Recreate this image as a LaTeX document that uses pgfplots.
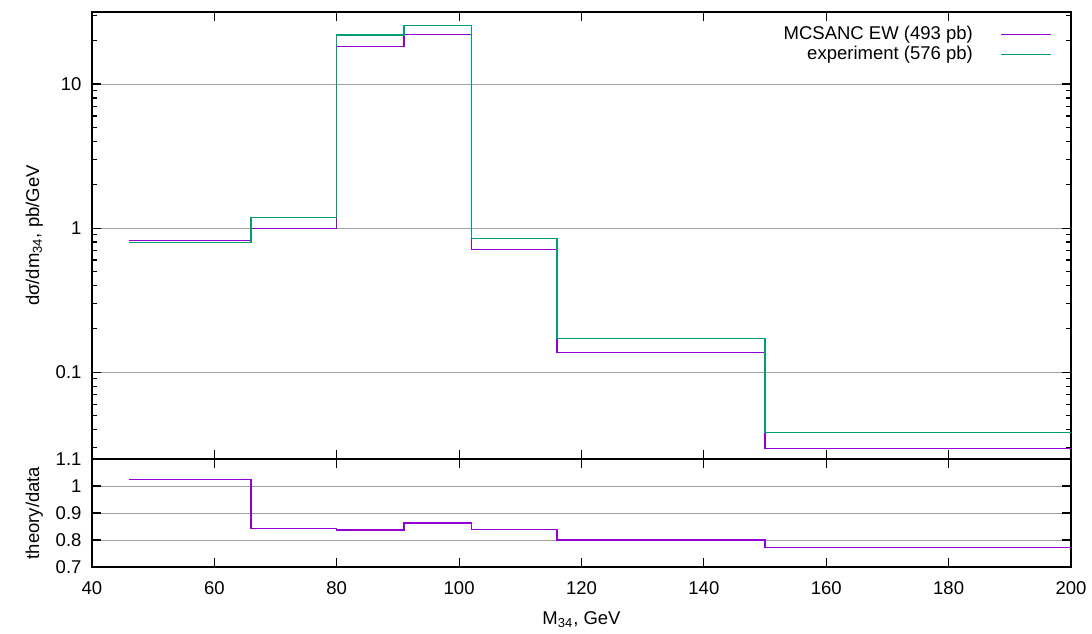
\documentclass[border=0pt]{standalone}
\usepackage{pgfplots}
\pgfplotsset{compat=1.18}
\usepackage{fontspec}
\setmainfont{Liberation Sans}
\definecolor{mcsanc}{HTML}{9400D3}
\definecolor{expcol}{HTML}{009E73}
\definecolor{gridgray}{HTML}{A0A0A0}
\pgfplotsset{mylegend/.style={legend image code/.code={\draw[#1, line width=0.6pt] (0pt,0pt) -- (25pt,0pt);}}}
\begin{document}
\fontsize{9.25}{11}\selectfont
\begin{tikzpicture}
\pgfplotsset{
  every axis/.append style={
    font=\fontsize{9.25}{11}\selectfont,
    scale only axis,
    width=489.5pt,
    xmin=40, xmax=200,
    tick align=inside,
    tick pos=both,
    major tick length=4.5pt,
    minor tick length=2.5pt,
    axis line style={line width=0.6pt},
    every tick/.style={black, line width=0.6pt},
    ymajorgrids,
    major grid style={gridgray, line width=0.5pt},
    /pgf/number format/assume math mode=true,
    yticklabel style={xshift=-2pt},
  },
}
\begin{axis}[
  name=top,
  at={(0,0)}, anchor=south west,
  height=223.5pt,
  ymode=log,
  ymin=0.025, ymax=31.6,
  log ticks with fixed point,
  xtick={40,60,...,200},
  xticklabels={},
  ylabel={dσ/dm\textsubscript{34}, pb/GeV},
  ylabel style={at={(axis description cs:-0.059,0.5)}, anchor=center},
  legend plot pos=right,
  legend cell align=right,
  legend style={draw=none, fill=none, at={(axis description cs:0.981,0.978)}, anchor=north east,
    inner sep=0pt, row sep=-2pt, column sep=12pt, font=\fontsize{9.25}{11}\selectfont},
]
\addplot[const plot, color=mcsanc, line width=0.6pt, mylegend=mcsanc] coordinates {
  (46,0.821) (66,1.0) (80,18.3) (91,22.1) (102,0.711) (116,0.137) (150,0.0295) (200,0.0295)
};
\addlegendentry{MCSANC EW (493 pb)}
\addplot[const plot, color=expcol, line width=0.6pt, mylegend=expcol] coordinates {
  (46,0.795) (66,1.187) (80,21.9) (91,25.6) (102,0.843) (116,0.171) (150,0.0381) (200,0.0381)
};
\addlegendentry{experiment (576 pb)}
\end{axis}
\begin{axis}[
  name=bottom,
  at={(0,0)}, anchor=north west,
  height=54pt,
  ymin=0.7, ymax=1.1,
  xtick={40,60,...,200},
  ytick={0.7,0.8,0.9,1,1.1},
  yticklabels={0.7,0.8,0.9,1,1.1},
  xticklabel style={yshift=-4pt},
  ylabel={theory/data},
  ylabel style={at={(axis description cs:-0.059,0.5)}, anchor=center},
  xlabel={M\textsubscript{34}, GeV},
  xlabel style={at={(axis description cs:0.5,-0.49)}, anchor=center},
]
\addplot[const plot, color=mcsanc, line width=0.6pt] coordinates {
  (46,1.025) (66,0.843) (80,0.837) (91,0.863) (102,0.838) (116,0.800) (150,0.772) (200,0.772)
};
\end{axis}
\pgfresetboundingbox
\useasboundingbox (-46pt,-87pt) rectangle (500pt,229.5pt);
\end{tikzpicture}
\end{document}
